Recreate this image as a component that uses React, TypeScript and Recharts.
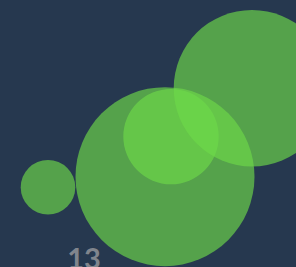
import { ScatterChart, Scatter, XAxis, YAxis, ZAxis } from "recharts"

const xValues = [12.88, 13.27, 13.29, 13.56]
const yValues = [12, 14.4, 23.5, 34.5]
const sizes = [9.3, 100, 28.4, 76.5]
const xTicks = [13]

const data = xValues.map((x, i) => ({ x, y: yValues[i], z: sizes[i] }))

export default function App() {
    return (
        <div
            style={{
                position: "fixed",
                left: 0,
                top: 0,
                width: 296,
                height: 267,
                overflow: "hidden",
                background: "#26384f",
            }}
        >
            <div style={{ position: "absolute", left: -216, top: -200 }}>
                <ScatterChart width={600} height={500} margin={{ top: 0, right: 0, bottom: 0, left: 0 }}>
                    <XAxis
                        type="number"
                        dataKey="x"
                        domain={[12, 14]}
                        ticks={xTicks}
                        height={60}
                        axisLine={false}
                        tickLine={false}
                        tick={{ fill: "#80858d", fontSize: 29, fontWeight: 700, fontFamily: "Lato" }}
                    />
                    <YAxis type="number" dataKey="y" domain={[0, 100]} hide />
                    <ZAxis type="number" dataKey="z" domain={[0, 100]} range={[0, 25165]} />
                    <Scatter data={data} fill="#6ed949" fillOpacity={0.66} isAnimationActive={false} />
                </ScatterChart>
            </div>
        </div>
    )
}
